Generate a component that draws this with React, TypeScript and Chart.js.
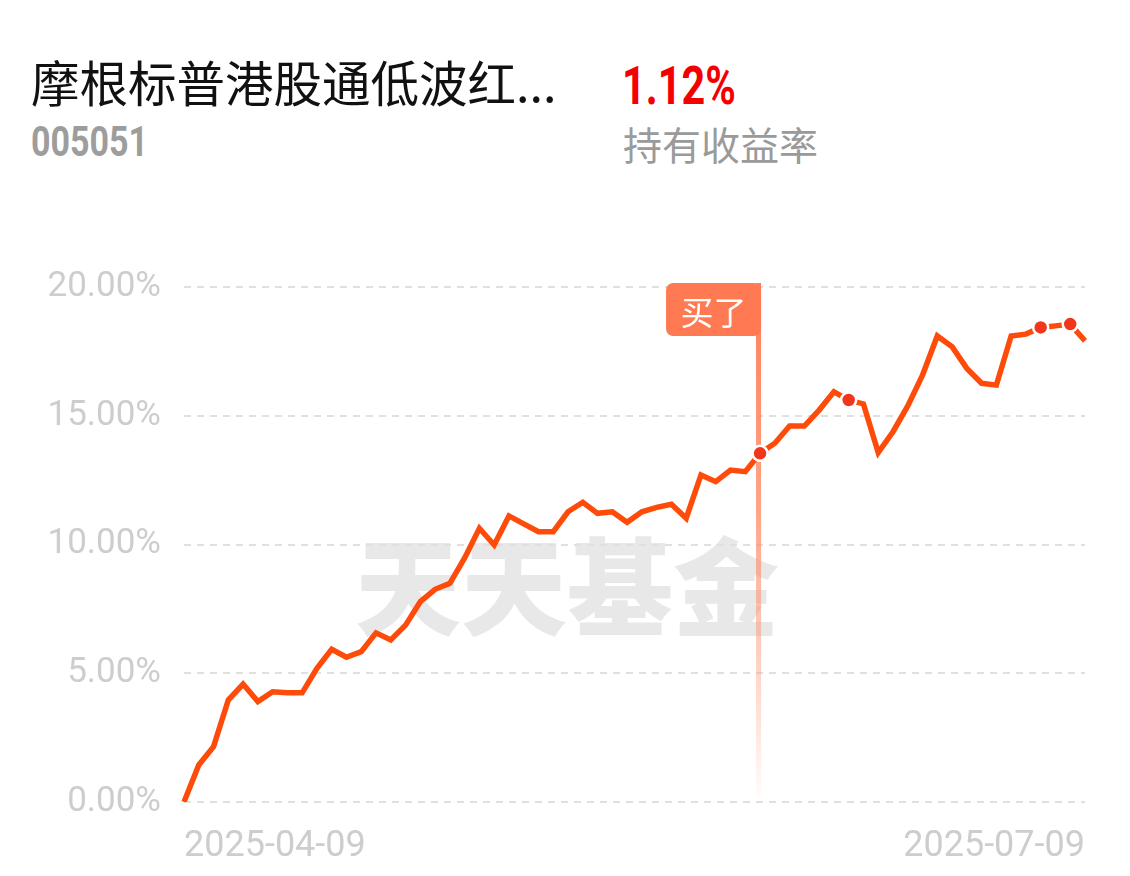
import React, { useEffect, useRef } from "react";
import { Chart, registerables } from "chart.js";

Chart.register(...registerables);

const fundName = "摩根标普港股通低波红...";
const fundCode = "005051";
const holdReturn = "1.12%";
const holdReturnLabel = "持有收益率";
const watermark = "天天基金";
const buyLabel = "买了";

const returnsPct: number[] = [
  0.0, 1.44, 2.15, 3.96, 4.58, 3.9, 4.28, 4.24, 4.24, 5.19,
  5.93, 5.62, 5.84, 6.57, 6.29, 6.87, 7.78, 8.26, 8.49, 9.48,
  10.63, 9.98, 11.11, 10.8, 10.5, 10.5, 11.27, 11.64, 11.21, 11.27,
  10.86, 11.27, 11.44, 11.56, 11.02, 12.7, 12.44, 12.89, 12.83, 13.54,
  13.93, 14.6, 14.6, 15.22, 15.93, 15.61, 15.46, 13.57, 14.38, 15.38,
  16.58, 18.1, 17.68, 16.84, 16.26, 16.19, 18.1, 18.17, 18.43, 18.49,
  18.56, 17.91,
];
const startDate = "2025-04-09";
const endDate = "2025-07-09";
const buyIndex = 39;
const markedIndices = [39, 45, 58, 60];
const yTicks = [0, 5, 10, 15, 20];

const categories = returnsPct.map((_, i) => String(i));

const buyPlugin = {
  id: "buyMarker",
  beforeDatasetsDraw(chart: any) {
    const { ctx, scales } = chart;
    const x = scales.x;
    const y = scales.y;
    const px = x.getPixelForValue(buyIndex) - 1.5;
    const top = y.getPixelForValue(yTicks[yTicks.length - 1]) - 4;
    const bottom = y.getPixelForValue(0) - 7;
    ctx.save();
    const grad = ctx.createLinearGradient(0, top, 0, bottom);
    grad.addColorStop(0, "rgba(255,125,85,1)");
    grad.addColorStop(0.45, "rgba(255,140,105,0.8)");
    grad.addColorStop(0.8, "rgba(255,150,120,0.35)");
    grad.addColorStop(1, "rgba(255,160,130,0.05)");
    ctx.fillStyle = grad;
    ctx.fillRect(px - 2.5, top, 5, bottom - top);
    const boxW = 95;
    const boxH = 53;
    const bx = px + 2.5 - boxW;
    ctx.fillStyle = "#FF7A52";
    ctx.beginPath();
    ctx.roundRect(bx, top, boxW, boxH, 7);
    ctx.fill();
    ctx.fillStyle = "#ffffff";
    ctx.font = '33px "Noto Sans CJK SC"';
    ctx.textAlign = "center";
    ctx.textBaseline = "middle";
    ctx.fillText(buyLabel, bx + boxW / 2, top + boxH / 2 + 3);
    ctx.restore();
  },
};

export default function App() {
  const canvasRef = useRef<HTMLCanvasElement | null>(null);

  useEffect(() => {
    if (!canvasRef.current) return;
    const last = returnsPct.length - 1;
    const chart = new Chart(canvasRef.current, {
      type: "line",
      data: {
        labels: categories,
        datasets: [
          {
            data: returnsPct,
            borderColor: "#FF4B0A",
            borderWidth: 5.5,
            tension: 0,
            fill: false,
            pointRadius: returnsPct.map((_, i) => (markedIndices.includes(i) ? 7.5 : 0)),
            pointBackgroundColor: "#F2361C",
            pointBorderColor: "#ffffff",
            pointBorderWidth: 2.5,
            pointHoverRadius: 0,
          },
        ],
      },
      options: {
        animation: false,
        responsive: false,
        devicePixelRatio: 1,
        events: [],
        layout: { padding: { left: 0, right: 45, top: 57, bottom: 0 } },
        plugins: { legend: { display: false }, tooltip: { enabled: false } },
        scales: {
          x: {
            type: "category",
            offset: false,
            grid: { display: false, drawTicks: false },
            border: { display: false },
            ticks: {
              autoSkip: false,
              maxRotation: 0,
              align: "inner",
              padding: 23,
              color: "#cdcdcd",
              font: { family: "Roboto", size: 36 },
              callback: (_v: any, i: number) => (i === 0 ? startDate : i === last ? endDate : ""),
            },
            afterFit: (s: any) => {
              s.height = 74;
            },
          },
          y: {
            min: yTicks[0],
            max: yTicks[yTicks.length - 1],
            grid: {
              color: "#e0e0e0",
              lineWidth: 2,
              drawTicks: false,
            },
            border: { display: false, dash: [7, 6] },
            ticks: {
              stepSize: 5,
              padding: 23,
              color: "#cdcdcd",
              font: { family: "Roboto", size: 35 },
              callback: (v: any) => Number(v).toFixed(2) + "%",
            },
            afterFit: (s: any) => {
              s.width = 184;
            },
          },
        },
      },
      plugins: [buyPlugin],
    });
    return () => chart.destroy();
  }, []);

  return (
    <div
      style={{
        position: "absolute",
        left: 0,
        top: 0,
        width: 1130,
        height: 876,
        background: "#ffffff",
        overflow: "hidden",
        fontFamily: '"Noto Sans CJK SC", sans-serif',
      }}
    >
      <div style={{ position: "absolute", left: 31, top: 57, fontSize: 48.5, lineHeight: 1, color: "#111", whiteSpace: "nowrap" }}>
        {fundName}
      </div>
      <div
        style={{
          position: "absolute",
          left: 31,
          top: 121,
          fontFamily: "Roboto",
          fontWeight: 700,
          fontSize: 42,
          lineHeight: 1,
          color: "#9d9d9d",
          transform: "scaleX(0.81)",
          transformOrigin: "left top",
          whiteSpace: "nowrap",
        }}
      >
        {fundCode}
      </div>
      <div
        style={{
          position: "absolute",
          left: 622,
          top: 60,
          fontFamily: "Roboto",
          fontWeight: 700,
          fontSize: 53,
          lineHeight: 1,
          color: "#F50000",
          transform: "scaleX(0.78)",
          transformOrigin: "left top",
          whiteSpace: "nowrap",
        }}
      >
        {holdReturn}
      </div>
      <div style={{ position: "absolute", left: 623, top: 124, fontSize: 39, lineHeight: 1, color: "#9a9a9a", whiteSpace: "nowrap" }}>
        {holdReturnLabel}
      </div>
      <div
        style={{
          position: "absolute",
          left: 355,
          top: 528,
          fontSize: 106,
          fontWeight: 900,
          lineHeight: 1,
          color: "#e8e8e8",
          whiteSpace: "nowrap",
        }}
      >
        {watermark}
      </div>
      <canvas
        ref={canvasRef}
        width={1130}
        height={646}
        style={{ position: "absolute", left: 0, top: 230, width: 1130, height: 646 }}
      />
    </div>
  );
}
